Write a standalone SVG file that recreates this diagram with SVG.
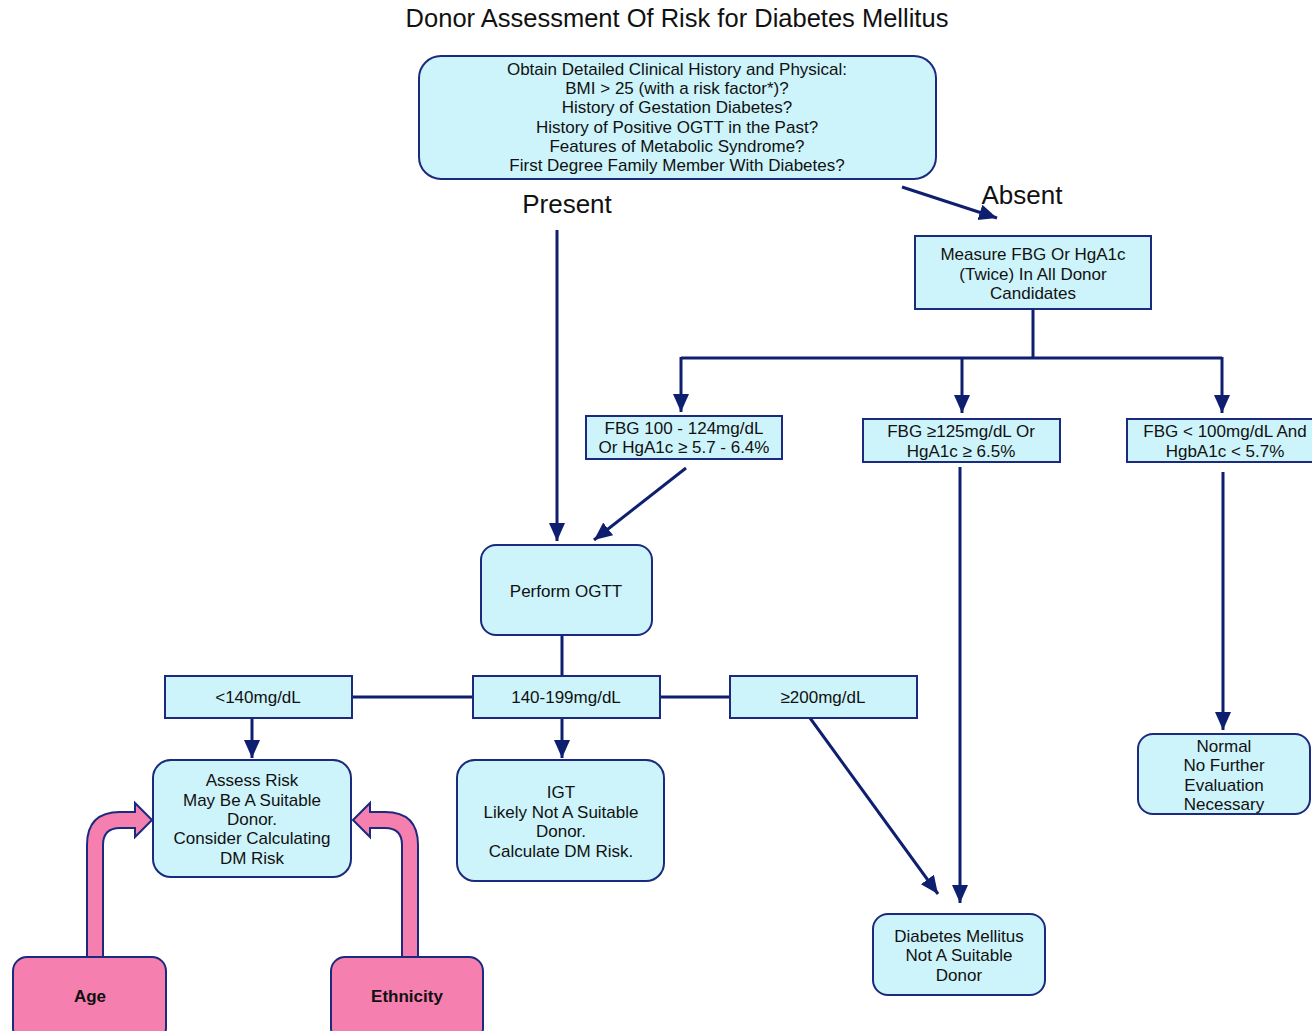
<svg xmlns="http://www.w3.org/2000/svg" width="1312" height="1031" viewBox="0 0 1312 1031">
<style>
text{font-family:"Liberation Sans",Arial,sans-serif;fill:#111;text-anchor:middle}
.t{font-size:17px}
.box{fill:#cdf4fb;stroke:#1b2a7e;stroke-width:2}
.pink{fill:#f57fae;stroke:#1b2a7e;stroke-width:2}
.ln{fill:none;stroke:#0f1f70;stroke-width:3}
.b{font-weight:bold}
</style>
<defs>
<marker id="ah" markerUnits="userSpaceOnUse" markerWidth="20" markerHeight="20" viewBox="0 0 20 20" refX="18" refY="10" orient="auto">
<path d="M0,2 L18,10 L0,18 Z" fill="#0f1f70"/>
</marker>
</defs>
<rect width="1312" height="1031" fill="#fff"/>
<text x="677" y="27" style="font-size:25.5px">Donor Assessment Of Risk for Diabetes Mellitus</text>

<g id="connectors">
<line class="ln" x1="902" y1="187" x2="997" y2="218" marker-end="url(#ah)"/>
<line class="ln" x1="557" y1="230" x2="557" y2="541" marker-end="url(#ah)"/>
<polyline class="ln" points="1033,309 1033,358"/>
<polyline class="ln" points="681,358 1222,358"/>
<line class="ln" x1="681" y1="357" x2="681" y2="412" marker-end="url(#ah)"/>
<line class="ln" x1="962" y1="357" x2="962" y2="413" marker-end="url(#ah)"/>
<line class="ln" x1="1222" y1="357" x2="1222" y2="413" marker-end="url(#ah)"/>
<line class="ln" x1="686" y1="468" x2="594" y2="540" marker-end="url(#ah)"/>
<line class="ln" x1="562" y1="635" x2="562" y2="676"/>
<line class="ln" x1="352" y1="697" x2="473" y2="697"/>
<line class="ln" x1="660" y1="697" x2="730" y2="697"/>
<line class="ln" x1="252" y1="718" x2="252" y2="758" marker-end="url(#ah)"/>
<line class="ln" x1="562" y1="718" x2="562" y2="758" marker-end="url(#ah)"/>
<line class="ln" x1="810" y1="718" x2="938" y2="894" marker-end="url(#ah)"/>
<line class="ln" x1="960" y1="467" x2="960" y2="903" marker-end="url(#ah)"/>
<line class="ln" x1="1223" y1="472" x2="1223" y2="730" marker-end="url(#ah)"/>
</g>

<text x="567" y="213" style="font-size:26px">Present</text>
<text x="1022" y="204" style="font-size:26px">Absent</text>

<g id="history">
<rect class="box" x="419" y="56" width="517" height="123" rx="22"/>
<text class="t" x="677" y="75">Obtain Detailed Clinical History and Physical:</text>
<text class="t" x="677" y="94">BMI &gt; 25 (with a risk factor*)?</text>
<text class="t" x="677" y="113">History of Gestation Diabetes?</text>
<text class="t" x="677" y="133">History of Positive OGTT in the Past?</text>
<text class="t" x="677" y="152">Features of Metabolic Syndrome?</text>
<text class="t" x="677" y="171">First Degree Family Member With Diabetes?</text>
</g>

<g id="measure">
<rect class="box" x="915" y="236" width="236" height="73"/>
<text class="t" x="1033" y="260">Measure FBG Or HgA1c</text>
<text class="t" x="1033" y="280">(Twice) In All Donor</text>
<text class="t" x="1033" y="299">Candidates</text>
</g>

<g id="fbg100">
<rect class="box" x="586" y="416" width="196" height="43"/>
<text class="t" x="684" y="434">FBG 100 - 124mg/dL</text>
<text class="t" x="684" y="453">Or HgA1c ≥ 5.7 - 6.4%</text>
</g>

<g id="fbg125">
<rect class="box" x="863" y="419" width="197" height="43"/>
<text class="t" x="961" y="437">FBG ≥125mg/dL Or</text>
<text class="t" x="961" y="457">HgA1c ≥ 6.5%</text>
</g>

<g id="fbglow">
<rect class="box" x="1127" y="419" width="186" height="43"/>
<text class="t" x="1225" y="437">FBG &lt; 100mg/dL And</text>
<text class="t" x="1225" y="457">HgbA1c &lt; 5.7%</text>
</g>

<g id="ogtt">
<rect class="box" x="481" y="545" width="171" height="90" rx="15"/>
<text class="t" x="566" y="597">Perform OGTT</text>
</g>

<g id="lt140">
<rect class="box" x="165" y="676" width="187" height="42"/>
<text class="t" x="258" y="703">&lt;140mg/dL</text>
</g>

<g id="r140">
<rect class="box" x="473" y="676" width="187" height="42"/>
<text class="t" x="566" y="703">140-199mg/dL</text>
</g>

<g id="ge200">
<rect class="box" x="730" y="676" width="187" height="42"/>
<text class="t" x="823" y="703">≥200mg/dL</text>
</g>

<g id="assess">
<rect class="box" x="153" y="760" width="198" height="117" rx="18"/>
<text class="t" x="252" y="786">Assess Risk</text>
<text class="t" x="252" y="806">May Be A Suitable</text>
<text class="t" x="252" y="825">Donor.</text>
<text class="t" x="252" y="844">Consider Calculating</text>
<text class="t" x="252" y="864">DM Risk</text>
</g>

<g id="igt">
<rect class="box" x="457" y="760" width="207" height="121" rx="18"/>
<text class="t" x="561" y="798">IGT</text>
<text class="t" x="561" y="818">Likely Not A Suitable</text>
<text class="t" x="561" y="837">Donor.</text>
<text class="t" x="561" y="857">Calculate DM Risk.</text>
</g>

<g id="dm">
<rect class="box" x="873" y="914" width="172" height="81" rx="15"/>
<text class="t" x="959" y="942">Diabetes Mellitus</text>
<text class="t" x="959" y="961">Not A Suitable</text>
<text class="t" x="959" y="981">Donor</text>
</g>

<g id="normal">
<rect class="box" x="1138" y="734" width="172" height="80" rx="15"/>
<text class="t" x="1224" y="752">Normal</text>
<text class="t" x="1224" y="771">No Further</text>
<text class="t" x="1224" y="791">Evaluation</text>
<text class="t" x="1224" y="810">Necessary</text>
</g>

<g id="age-arrow">
<path class="pink" d="M87,960 L87,845 Q87,812 120,812 L135,812 L135,803 L152,820 L135,837 L135,828 L120,828 Q103,828 103,845 L103,960 Z"/>
</g>
<g id="eth-arrow">
<path class="pink" d="M418,960 L418,845 Q418,812 385,812 L370,812 L370,803 L353,820 L370,837 L370,828 L385,828 Q402,828 402,845 L402,960 Z"/>
</g>

<g id="age">
<rect class="pink" x="13" y="957" width="153" height="85" rx="14"/>
<text class="t b" x="90" y="1002">Age</text>
</g>
<g id="ethnicity">
<rect class="pink" x="331" y="957" width="152" height="85" rx="14"/>
<text class="t b" x="407" y="1002">Ethnicity</text>
</g>
</svg>
